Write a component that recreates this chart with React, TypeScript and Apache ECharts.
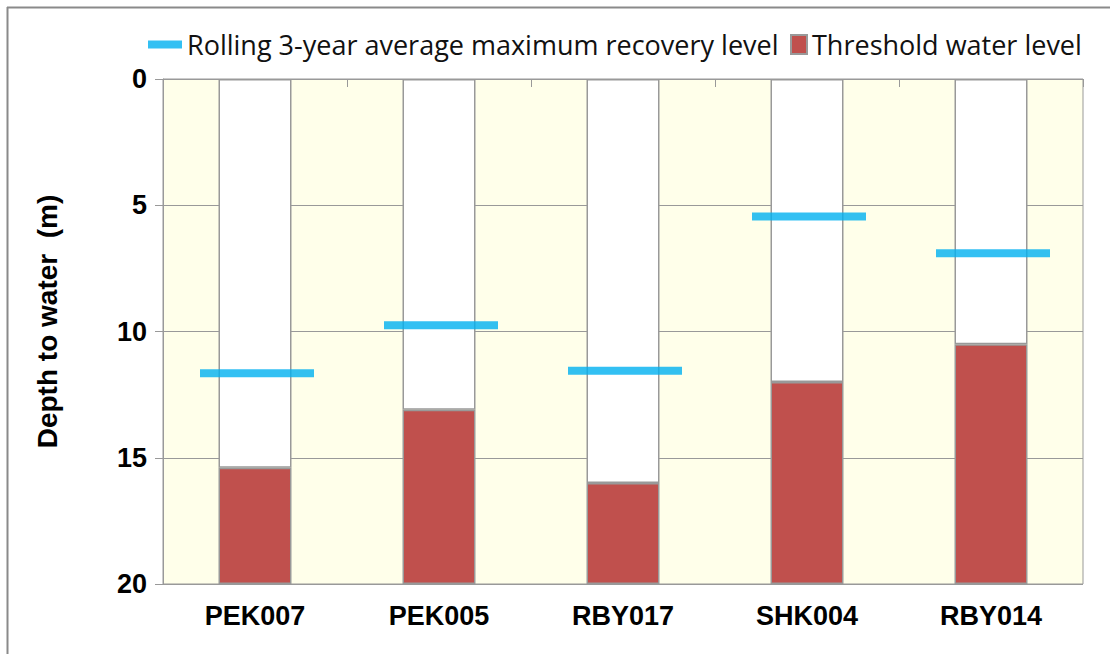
import React, { useEffect, useRef } from "react";
import * as echarts from "echarts";

const categories = ["PEK007", "PEK005", "RBY017", "SHK004", "RBY014"];
const thresholdLevel = [15.4, 13.1, 16.0, 12.0, 10.5];
const rollingAverage = [11.65, 9.75, 11.55, 5.45, 6.9];
const depthMax = 20;
const yTicks = [0, 5, 10, 15, 20];

export default function App() {
  const ref = useRef<HTMLDivElement>(null);
  useEffect(() => {
    if (!ref.current) return;
    const chart = echarts.init(ref.current, undefined, { renderer: "svg" });
    const below = thresholdLevel.map((v) => depthMax - v);
    const grey = "#999999";
    const legendFont = { fontFamily: "Open Sans", fontSize: 27, color: "#111" };
    const boldFont = { fontFamily: "Liberation Sans", fontWeight: "bold", fontSize: 27, color: "#000" };
    chart.setOption({
      animation: false,
      backgroundColor: "#ffffff",
      grid: {
        left: 163,
        right: 27,
        top: 79,
        bottom: 70,
        show: true,
        backgroundColor: "#FFFFEA",
        borderColor: grey,
        borderWidth: 1,
      },
      legend: [
        {
          left: 143,
          top: 26,
          data: [{ name: "Rolling 3-year average maximum recovery level", icon: "rect" }],
          itemWidth: 34,
          itemHeight: 8,
          itemGap: 2,
          textStyle: legendFont,
        },
        {
          left: 785,
          top: 26,
          data: [{ name: "Threshold water level", icon: "rect" }],
          itemWidth: 16,
          itemHeight: 19,
          itemGap: 4,
          textStyle: legendFont,
        },
      ],
      graphic: [
        { type: "line", shape: { x1: 7, y1: 7.5, x2: 1110, y2: 7.5 }, style: { stroke: "#8a8a8a", lineWidth: 2 } },
        { type: "line", shape: { x1: 7.5, y1: 7, x2: 7.5, y2: 654 }, style: { stroke: "#8a8a8a", lineWidth: 2 } },
      ],
      xAxis: {
        type: "category",
        data: categories,
        position: "bottom",
        axisLine: { show: true, lineStyle: { color: grey } },
        axisTick: { show: true, length: 8, alignWithLabel: false, lineStyle: { color: grey } },
        axisLabel: { ...boldFont, margin: 18 },
        splitLine: { show: false },
      },
      yAxis: {
        type: "value",
        inverse: true,
        min: yTicks[0],
        max: yTicks[yTicks.length - 1],
        interval: 5,
        name: "Depth to water  (m)",
        nameLocation: "middle",
        nameGap: 102,
        nameTextStyle: { ...boldFont, fontSize: 28, padding: [0, 0, 0, 20] },
        axisLine: { show: true, lineStyle: { color: grey } },
        axisTick: { show: true, length: 8, lineStyle: { color: grey } },
        axisLabel: { ...boldFont, margin: 16 },
        splitLine: { show: true, lineStyle: { color: grey, width: 1 } },
      },
      series: [
        {
          name: "above",
          type: "bar",
          stack: "depth",
          data: thresholdLevel,
          barWidth: 73,
          itemStyle: { color: "#ffffff", borderColor: grey, borderWidth: 1.5 },
          z: 2,
        },
        {
          name: "Threshold water level",
          type: "bar",
          stack: "depth",
          data: below,
          barWidth: 73,
          itemStyle: { color: "#C0504D", borderColor: grey, borderWidth: 1.5 },
          z: 2,
        },
        {
          name: "Rolling 3-year average maximum recovery level",
          type: "scatter",
          data: rollingAverage,
          symbol: "rect",
          symbolSize: [114, 8],
          symbolOffset: [2, 0],
          itemStyle: { color: "#00B0F0" },
          z: 5,
        },
      ],
    });
    return () => chart.dispose();
  }, []);
  return (
    <div
      ref={ref}
      style={{ position: "absolute", left: 0, top: 0, width: 1110, height: 654 }}
    />
  );
}
